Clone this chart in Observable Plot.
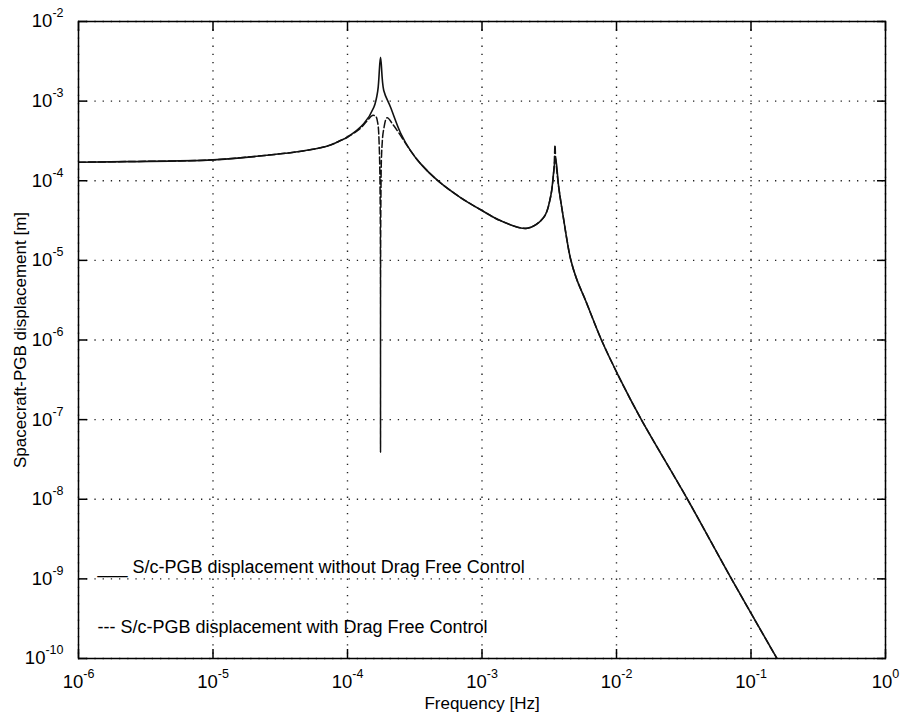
<!DOCTYPE html>
<html><head><meta charset="utf-8">
<script src="https://cdn.jsdelivr.net/npm/d3@7"></script>
<script src="https://cdn.jsdelivr.net/npm/@observablehq/plot@0.6"></script>
<style>body{margin:0;background:#fff}svg{display:block}</style>
</head><body><div id="chart"></div>
<script>
// Frequency [Hz] and displacement [m]
const solidFreq = [1e-6, 2.30e-6, 1e-5, 2.51e-5, 3.99e-5, 6.30e-5, 7.50e-5, 8.87e-5, 9.95e-5, 1.32e-4, 1.57e-4, 1.68e-4, 1.76e-4, 1.86e-4, 2.09e-4, 2.48e-4, 2.94e-4, 3.49e-4, 4.67e-4, 6.92e-4, 1e-3, 1.37e-3, 2.17e-3, 2.88e-3, 3.23e-3, 3.42e-3, 3.52e-3, 3.72e-3, 4.06e-3, 4.29e-3, 4.55e-3, 5.04e-3, 5.89e-3, 7.73e-3, 1.07e-2, 1.53e-2, 3.37e-2, 7.16e-2, 0.156];
const solidDisp = [1.71e-4, 1.74e-4, 1.83e-4, 2.09e-4, 2.28e-4, 2.59e-4, 2.82e-4, 3.20e-4, 3.52e-4, 5.19e-4, 8.38e-4, 1.36e-3, 3.56e-3, 1.36e-3, 8.38e-4, 3.98e-4, 2.39e-4, 1.64e-4, 1.01e-4, 6.15e-5, 4.23e-5, 3.16e-5, 2.53e-5, 3.47e-5, 6.21e-5, 1.34e-4, 1.97e-4, 8.28e-5, 3.16e-5, 1.77e-5, 1.05e-5, 5.90e-6, 3.13e-6, 1e-6, 3.16e-7, 1e-7, 1e-8, 1e-9, 1e-10];

const dashedFreq = [1e-6, 2.30e-6, 1e-5, 2.51e-5, 3.99e-5, 6.30e-5, 7.50e-5, 8.87e-5, 9.95e-5, 1.25e-4, 1.41e-4, 1.53e-4, 1.62e-4, 1.68e-4, 1.72e-4, 1.75e-4, 1.76e-4, 1.77e-4, 1.80e-4, 1.86e-4, 1.97e-4, 2.19e-4, 2.41e-4, 2.94e-4, 3.49e-4, 4.67e-4, 6.92e-4, 1e-3, 1.37e-3, 2.17e-3, 2.88e-3, 3.23e-3, 3.42e-3, 3.49e-3, 3.53e-3, 3.72e-3, 4.06e-3, 4.29e-3, 4.55e-3, 5.04e-3, 5.89e-3, 7.73e-3, 1.07e-2, 1.53e-2, 3.37e-2, 7.16e-2, 0.156];
const dashedDisp = [1.71e-4, 1.74e-4, 1.83e-4, 2.09e-4, 2.28e-4, 2.59e-4, 2.82e-4, 3.20e-4, 3.52e-4, 4.57e-4, 5.75e-4, 6.61e-4, 6.46e-4, 5.25e-4, 2.82e-4, 5.01e-5, 3.89e-8, 5.01e-5, 2.51e-4, 4.47e-4, 6.17e-4, 5.01e-4, 3.98e-4, 2.39e-4, 1.64e-4, 1.01e-4, 6.15e-5, 4.23e-5, 3.16e-5, 2.53e-5, 3.47e-5, 6.21e-5, 1.34e-4, 2.82e-4, 1.9e-4, 8.28e-5, 3.16e-5, 1.77e-5, 1.05e-5, 5.90e-6, 3.13e-6, 1e-6, 3.16e-7, 1e-7, 1e-8, 1e-9, 1e-10];

const xTickValues = [1e-6, 1e-5, 1e-4, 1e-3, 1e-2, 1e-1, 1];
const yTickValues = [1e-10, 1e-9, 1e-8, 1e-7, 1e-6, 1e-5, 1e-4, 1e-3, 1e-2];
const xLabel = "Frequency [Hz]";
const yLabel = "Spacecraft-PGB displacement [m]";
const legendSolid = "___ S/c-PGB displacement without Drag Free Control";
const legendDashed = "--- S/c-PGB displacement with Drag Free Control";

const solid = solidFreq.map((f, i) => ({f, v: solidDisp[i]}));
const dashed = dashedFreq.map((f, i) => ({f, v: dashedDisp[i]}));
const expFormat = d => "10^" + Math.round(Math.log10(d));
const noLabel = () => "";
const gridStyle = {stroke: "#222", strokeOpacity: 1, strokeWidth: 1.4, strokeDasharray: "1.3,6.9"};

const chart = Plot.plot({
  width: 901, height: 715,
  marginLeft: 78, marginRight: 16, marginTop: 21, marginBottom: 57,
  style: {fontFamily: "'Liberation Sans', Arial, sans-serif", fontSize: "17px", color: "#000", background: "#fff"},
  x: {type: "log", domain: [1e-6, 1]},
  y: {type: "log", domain: [1e-10, 1e-2]},
  marks: [
    Plot.gridX(xTickValues, gridStyle),
    Plot.gridY(yTickValues, gridStyle),
    Plot.axisX(xTickValues, {anchor: "bottom", tickSize: 0, tickPadding: 16, tickFormat: expFormat, label: null}),
    Plot.axisX(xTickValues, {anchor: "bottom", tickSize: -9, tickFormat: noLabel, label: null, strokeWidth: 1.5}),
    Plot.axisX(xTickValues, {anchor: "top", tickSize: -9, tickFormat: noLabel, label: null, strokeWidth: 1.5}),
    Plot.axisY(yTickValues, {anchor: "left", tickSize: 0, tickPadding: 15, tickFormat: expFormat, label: null}),
    Plot.axisY(yTickValues, {anchor: "left", tickSize: -9, tickFormat: noLabel, label: null, strokeWidth: 1.5}),
    Plot.axisY(yTickValues, {anchor: "right", tickSize: -9, tickFormat: noLabel, label: null, strokeWidth: 1.5}),
    Plot.line(dashed, {x: "f", y: "v", stroke: "#111", strokeWidth: 1.5, strokeDasharray: "7,3", curve: "catmull-rom", clip: true}),
    Plot.line(solid, {x: "f", y: "v", stroke: "#111", strokeWidth: 1.6, curve: "catmull-rom", clip: true}),
    Plot.frame({stroke: "#000", strokeWidth: 1.5}),
    Plot.text([legendSolid], {text: d => d, frameAnchor: "bottom-left", textAnchor: "start", lineAnchor: "middle", dx: 19, dy: -91, fontSize: 18}),
    Plot.text([legendDashed], {text: d => d, frameAnchor: "bottom-left", textAnchor: "start", lineAnchor: "middle", dx: 19, dy: -31.5, fontSize: 18}),
    Plot.text([xLabel], {text: d => d, frameAnchor: "bottom", textAnchor: "middle", lineAnchor: "middle", dy: 45, fontSize: 17}),
    Plot.text([yLabel], {text: d => d, frameAnchor: "left", textAnchor: "middle", lineAnchor: "middle", rotate: -90, dx: -58, fontSize: 17})
  ]
});

// render exponents as superscripts
d3.select(chart).selectAll("text").each(function() {
  const t = this.textContent;
  if (!/^10\^-?\d+$/.test(t)) return;
  const exp = t.slice(3);
  const sel = d3.select(this);
  sel.style("font-size", "18.5px").text("10");
  sel.append("tspan").attr("dy", "-0.8em").style("font-size", "12.5px").text(exp);
});

document.getElementById("chart").appendChild(chart);
</script>
</body></html>
